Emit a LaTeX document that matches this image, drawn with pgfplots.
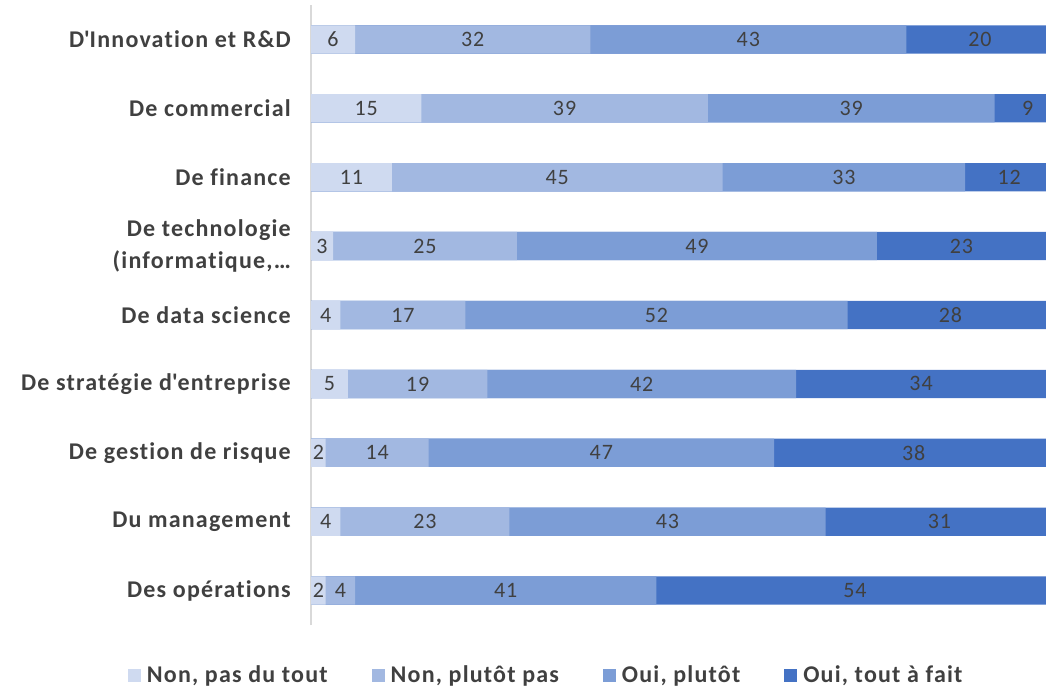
\documentclass[border=0pt]{standalone}
\usepackage{pgfplots}
\pgfplotsset{compat=1.18}
\usepackage{pgfplotstable}
\usepackage{fontspec}
\setmainfont{Carlito}
\newfontfamily\lblfont[LetterSpace=5, Ligatures={NoCommon}]{Carlito}
\newfontfamily\numfont[LetterSpace=4]{Carlito}
\definecolor{c1}{HTML}{CFDAF0}
\definecolor{c2}{HTML}{A2B8E1}
\definecolor{c3}{HTML}{7C9DD6}
\definecolor{c4}{HTML}{4472C4}
\definecolor{txt}{HTML}{404040}
\definecolor{axln}{HTML}{D9D9D9}
\pgfplotstableread{
y a b c d
8 6 32 43 20
7 15 39 39 9
6 11 45 33 12
5 3 25 49 23
4 4 17 52 28
3 5 19 42 34
2 2 14 47 38
1 4 23 43 31
0 2 4 41 54
}\data
\begin{document}
\begin{tikzpicture}[x=1pt,y=1pt]
\useasboundingbox (0,0) rectangle (1046,688);
\begin{axis}[
  at={(311pt,63pt)}, anchor=south west,
  scale only axis, width=735pt, height=620pt,
  xmin=0, xmax=100, ymin=-0.5, ymax=8.5,
  axis x line=none,
  axis y line*=left,
  y axis line style={-, draw=axln, line width=1.2pt},
  ytick={0,...,8},
  yticklabels={Des opérations, Du management, De gestion de risque, De stratégie d\textquotesingle entreprise, De data science, {De technologie\\(informatique,…}, De finance, De commercial, D\textquotesingle Innovation et R\&D},
  yticklabel style={align=right, font=\lblfont\fontsize{24}{32}\selectfont\bfseries, text=txt, inner sep=0pt, xshift=-20pt},
  major tick length=0pt,
  bar width=0.41,
  bar shift=0pt,
  legend style={at={(0.32,-0.081)}, anchor=center, legend columns=4, draw=none, fill=none,
    font=\lblfont\fontsize{24}{30}\selectfont\bfseries, text=txt,
    /tikz/every odd column/.append style={column sep=4pt},
    /tikz/every even column/.append style={column sep=42pt}},
  legend image code/.code={\fill[#1, draw=none] (0pt,-6.5pt) rectangle (13pt,6.5pt);},
  nodes near coords style={anchor=center, font=\numfont\fontsize{22}{28}\selectfont, text=txt},
]
\addlegendimage{fill=c1}\addlegendentry{Non, pas du tout}
\addlegendimage{fill=c2}\addlegendentry{Non, plutôt pas}
\addlegendimage{fill=c3}\addlegendentry{Oui, plutôt}
\addlegendimage{fill=c4}\addlegendentry{Oui, tout à fait}
\addplot[xbar, fill=c4, draw=none, forget plot] table[x expr=\thisrow{a}+\thisrow{b}+\thisrow{c}+\thisrow{d}, y=y]{\data};
\addplot[xbar, fill=c3, draw=none, forget plot] table[x expr=\thisrow{a}+\thisrow{b}+\thisrow{c}, y=y]{\data};
\addplot[xbar, fill=c2, draw=none, forget plot] table[x expr=\thisrow{a}+\thisrow{b}, y=y]{\data};
\addplot[xbar, fill=c1, draw=none, forget plot] table[x=a, y=y]{\data};
\addplot[draw=none, mark=none, forget plot, nodes near coords, point meta=explicit symbolic] table[x expr=\thisrow{a}/2, y=y, meta=a]{\data};
\addplot[draw=none, mark=none, forget plot, nodes near coords, point meta=explicit symbolic] table[x expr=\thisrow{a}+\thisrow{b}/2, y=y, meta=b]{\data};
\addplot[draw=none, mark=none, forget plot, nodes near coords, point meta=explicit symbolic] table[x expr=\thisrow{a}+\thisrow{b}+\thisrow{c}/2, y=y, meta=c]{\data};
\addplot[draw=none, mark=none, forget plot, nodes near coords, point meta=explicit symbolic] table[x expr=\thisrow{a}+\thisrow{b}+\thisrow{c}+\thisrow{d}/2, y=y, meta=d]{\data};
\end{axis}
\end{tikzpicture}
\end{document}
